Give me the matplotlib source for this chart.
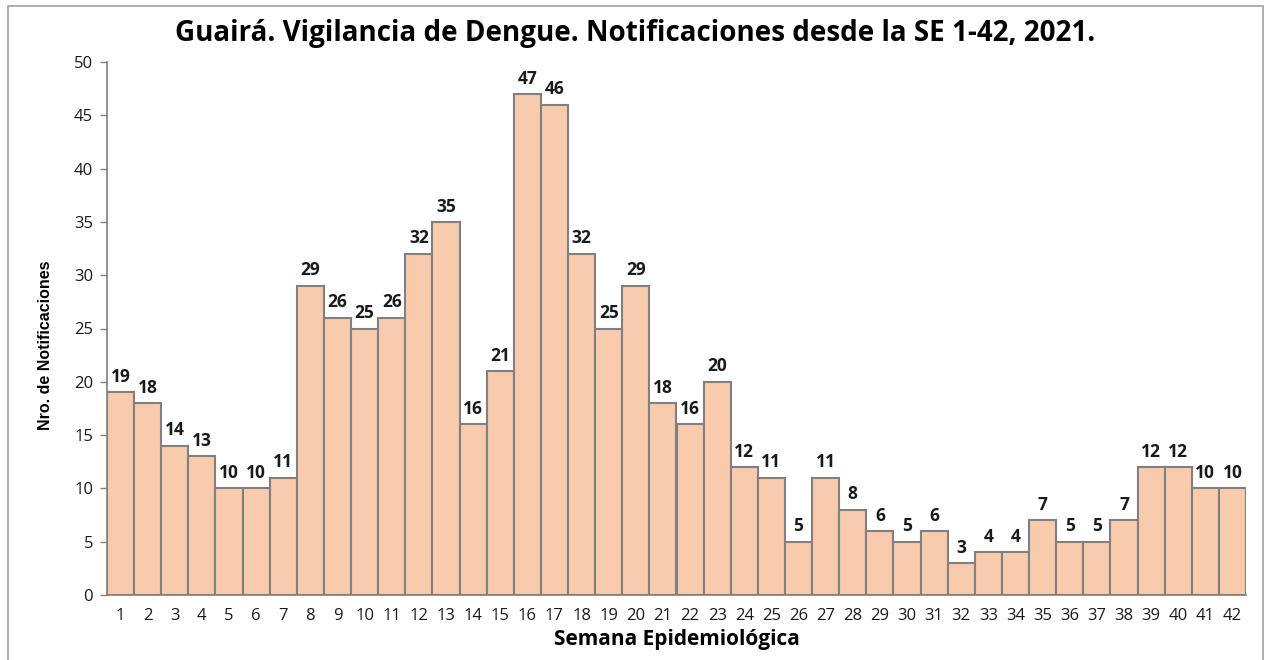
import matplotlib
matplotlib.use("Agg")
from matplotlib import pyplot as plt
from matplotlib.patches import Rectangle

semanas = list(range(1, 43))
notificaciones = [19, 18, 14, 13, 10, 10, 11, 29, 26, 25, 26, 32, 35, 16, 21, 47, 46, 32, 25, 29,
                  18, 16, 20, 12, 11, 5, 11, 8, 6, 5, 6, 3, 4, 4, 7, 5, 5, 7, 12, 12, 10, 10]
y_ticks = list(range(0, 51, 5))

titulo = "Guairá. Vigilancia de Dengue. Notificaciones desde la SE 1-42, 2021."

plt.rcParams['font.family'] = ['Open Sans', 'DejaVu Sans']

fig = plt.figure(figsize=(12.7, 6.6), dpi=100)
ax = fig.add_axes([107 / 1270, 1 - 595 / 660, (1246 - 107) / 1270, (595 - 62) / 660])

# marco gris alrededor del grafico
fig.patches.append(Rectangle((8 / 1270, -0.01), (1263 - 8) / 1270, 1 - 6 / 660 + 0.01,
                             transform=fig.transFigure, fill=False, edgecolor="#a0a0a0", lw=1.2))

ax.bar(semanas, notificaciones, width=1.0, color="#F8CBAD", edgecolor="#808080", linewidth=1.5)
for s, n in zip(semanas, notificaciones):
    ax.text(s, n + 0.6, str(n), ha="center", va="bottom", fontsize=12.5, fontweight="bold", color="#1a1a1a")

ax.set_xlim(0.5, 42.5)
ax.set_ylim(0, 50)
ax.set_yticks(y_ticks)
ax.set_xticks(semanas)
ax.tick_params(axis="y", colors="#808080", labelcolor="#1a1a1a", labelsize=12, length=5, width=1, pad=5)
ax.tick_params(axis="x", length=0, labelsize=12, labelcolor="#1a1a1a", pad=9)
for side in ["top", "right"]:
    ax.spines[side].set_visible(False)
for side in ["left", "bottom"]:
    ax.spines[side].set_color("#808080")
    ax.spines[side].set_linewidth(1.2)

ax.set_xlabel("Semana Epidemiológica", fontsize=15, fontweight="bold", labelpad=4)
ax.set_ylabel("Nro. de Notificaciones", fontsize=11.5, fontweight="bold",
              family=["Liberation Sans", "DejaVu Sans"], va="center")
ax.yaxis.set_label_coords(-0.054, 0.469)
fig.text(0.5, 1 - 33 / 660, titulo, ha="center", va="center", fontsize=20, fontweight="bold")

fig.savefig("out.png", dpi=100)
